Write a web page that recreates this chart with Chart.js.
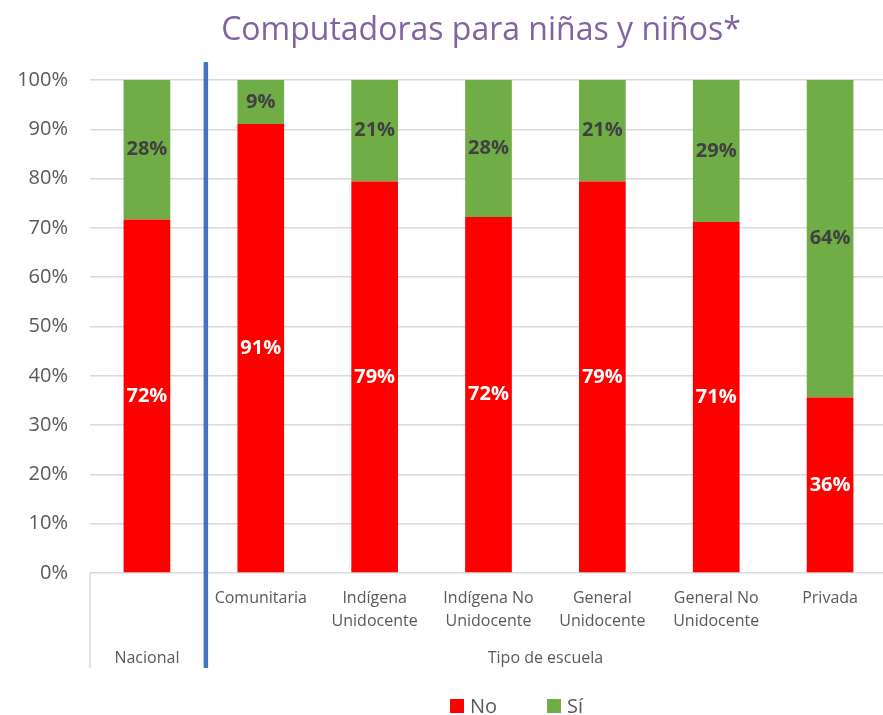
<!DOCTYPE html>
<html>
<head>
<meta charset="utf-8">
<script src="https://cdn.jsdelivr.net/npm/chart.js@4.4.0/dist/chart.umd.min.js"></script>
<style>
html,body{margin:0;padding:0;background:#fff;overflow:hidden;}
#wrap{width:883px;height:715px;position:relative;overflow:hidden;}
</style>
</head>
<body>
<div id="wrap"><canvas id="c" width="887" height="715"></canvas></div>
<script>
const titleText = 'Computadoras para niñas y niños*';
const categories = ['Nacional', 'Comunitaria', ['Indígena', 'Unidocente'], ['Indígena No', 'Unidocente'], ['General', 'Unidocente'], ['General No', 'Unidocente'], 'Privada'];
const groups = [
  { label: 'Nacional', from: 0, to: 0 },
  { label: 'Tipo de escuela', from: 1, to: 6 }
];
const seriesNo = [71.7, 91.1, 79.4, 72.2, 79.4, 71.2, 35.6];
const seriesSi = [28.3, 8.9, 20.6, 27.8, 20.6, 28.8, 64.4];
const yTicks = [0, 10, 20, 30, 40, 50, 60, 70, 80, 90, 100];

const FONT = "'Open Sans', 'DejaVu Sans', sans-serif";
const GRAY = '#595959';

const customDraw = {
  id: 'customDraw',
  afterDatasetsDraw(chart) {
    const ctx = chart.ctx;
    chart.data.datasets.forEach((ds, di) => {
      const meta = chart.getDatasetMeta(di);
      meta.data.forEach((el, i) => {
        const v = ds.data[i];
        const cy = (el.y + el.base) / 2;
        ctx.save();
        ctx.font = "bold 20px " + FONT;
        ctx.fillStyle = di === 0 ? '#ffffff' : '#404040';
        ctx.textAlign = 'center';
        ctx.textBaseline = 'middle';
        ctx.fillText(Math.round(v) + '%', el.x, cy);
        ctx.restore();
      });
    });
  },
  afterDraw(chart) {
    const ctx = chart.ctx;
    const xs = chart.scales.x;
    const area = chart.chartArea;
    const half = (xs.getPixelForValue(1) - xs.getPixelForValue(0)) / 2;
    const axisBottom = area.bottom + 95;
    ctx.save();
    ctx.strokeStyle = '#d9d9d9';
    ctx.lineWidth = 1.5;
    ctx.beginPath();
    ctx.moveTo(area.left, area.bottom);
    ctx.lineTo(area.left, axisBottom);
    ctx.stroke();
    const sepX = xs.getPixelForValue(0) + half + 2;
    ctx.strokeStyle = '#4472C4';
    ctx.lineWidth = 4.5;
    ctx.beginPath();
    ctx.moveTo(sepX, area.top - 18);
    ctx.lineTo(sepX, axisBottom);
    ctx.stroke();
    ctx.font = "16px " + FONT;
    ctx.fillStyle = GRAY;
    ctx.textAlign = 'center';
    ctx.textBaseline = 'middle';
    groups.forEach(g => {
      const x0 = xs.getPixelForValue(g.from) - half;
      const x1 = xs.getPixelForValue(g.to) + half;
      ctx.fillText(g.label, (x0 + x1) / 2, area.bottom + 85);
    });
    ctx.font = "32px " + FONT;
    ctx.fillStyle = '#8064A2';
    ctx.fillText(titleText, 481, 31);
    ctx.font = "20px " + FONT;
    ctx.textAlign = 'left';
    const ly = 706;
    const legendX = [450, 547];
    chart.data.datasets.forEach((ds, di) => {
      ctx.fillStyle = ds.backgroundColor;
      ctx.fillRect(legendX[di], ly - 7, 14, 14);
      ctx.fillStyle = GRAY;
      ctx.fillText(ds.label, legendX[di] + 20, ly + 1);
    });
    ctx.restore();
  }
};

new Chart(document.getElementById('c'), {
  type: 'bar',
  data: {
    labels: categories,
    datasets: [
      { label: 'No', data: seriesNo, backgroundColor: '#FF0000', barPercentage: 0.41, categoryPercentage: 1 },
      { label: 'Sí', data: seriesSi, backgroundColor: '#70AD47', barPercentage: 0.41, categoryPercentage: 1 }
    ]
  },
  options: {
    responsive: false,
    animation: false,
    devicePixelRatio: 1,
    layout: { padding: { top: 80, bottom: 46, left: 0, right: 0 } },
    plugins: { legend: { display: false }, title: { display: false }, tooltip: { enabled: false } },
    scales: {
      x: {
        stacked: true,
        grid: { display: false, drawTicks: false },
        border: { display: false },
        ticks: {
          font: { family: FONT, size: 16, lineHeight: 1.45 },
          color: GRAY,
          padding: 14,
          maxRotation: 0,
          autoSkip: false,
          callback: function(v, i) { return i === 0 ? '' : categories[i]; }
        },
        afterFit(s) { s.height = 96; }
      },
      y: {
        stacked: true,
        min: 0, max: 100,
        afterBuildTicks(s) { s.ticks = yTicks.map(v => ({ value: v })); },
        ticks: {
          font: { family: FONT, size: 20 },
          color: GRAY,
          padding: 22,
          callback: v => v + '%'
        },
        grid: { color: '#d9d9d9', lineWidth: 1.5, drawTicks: false },
        border: { display: false },
        afterFit(s) { s.width = 90; }
      }
    }
  },
  plugins: [customDraw]
});
</script>
</body>
</html>
